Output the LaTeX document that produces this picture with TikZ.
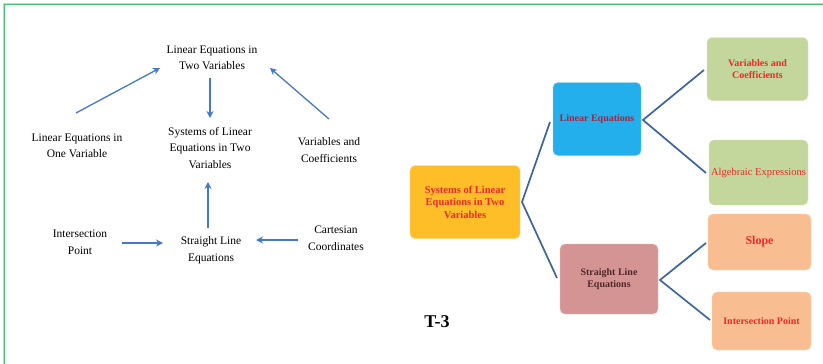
\documentclass[tikz,border=0pt]{standalone}
\usepackage{fontspec}
\setmainfont{Liberation Serif}
\usetikzlibrary{arrows.meta}
\definecolor{frameg}{RGB}{70,195,115}
\definecolor{arrowb}{RGB}{70,120,200}
\definecolor{linkb}{RGB}{60,100,160}
\definecolor{ybox}{RGB}{253,190,40}
\definecolor{bbox}{RGB}{35,175,235}
\definecolor{pbox}{RGB}{213,148,148}
\definecolor{gbox}{RGB}{195,214,155}
\definecolor{obox}{RGB}{248,190,145}
\definecolor{redtxt}{RGB}{240,40,40}
\definecolor{maroon}{RGB}{160,40,70}
\definecolor{darktxt}{RGB}{80,40,40}
\tikzset{
  lbl/.style={align=center,font=\fontsize{11.5}{16.5}\selectfont,inner sep=1pt},
  arr/.style={draw=arrowb,line width=1.3pt,-{Stealth[length=7pt,width=7pt]}},
  boxn/.style={rounded corners=5pt,align=center,inner sep=2pt,font=\fontsize{10}{11.5}\selectfont\bfseries},
  link/.style={draw=linkb,line width=1.7pt},
}
\begin{document}
\begin{tikzpicture}[x=1pt,y=-1pt]
\useasboundingbox (0,0) rectangle (823,364);
\fill[white] (0,0) rectangle (823,364);
% frame
\draw[frameg!45,line width=2.2pt] (4,364) -- (4,4) -- (823,4);
\draw[frameg,line width=0.9pt] (4,364) -- (4,4) -- (823,4);
% left diagram
\node[lbl] (l2) at (212,58) {Linear Equations in\\Two Variables};
\node[lbl] (sys) at (210,148) {Systems of Linear\\Equations in Two\\Variables};
\node[lbl] (l1) at (77,146) {Linear Equations in\\One Variable};
\node[lbl] (vc) at (329,150) {Variables and\\Coefficients};
\node[lbl] (ip) at (80,242) {Intersection\\Point};
\node[lbl] (sl) at (211,250) {Straight Line\\Equations};
\node[lbl] (cc) at (336,238) {Cartesian\\Coordinates};
\coordinate (a1s) at (76,113); \coordinate (a1e) at (160,68);
\coordinate (a2s) at (210,78); \coordinate (a2e) at (210,118);
\coordinate (a3s) at (329,119); \coordinate (a3e) at (270,68);
\coordinate (a4s) at (208,228); \coordinate (a4e) at (208,182);
\coordinate (a5s) at (122,243); \coordinate (a5e) at (163,243);
\coordinate (a6s) at (298,240); \coordinate (a6e) at (256,240);
\draw[arr] (a1s) -- (a1e);
\draw[arr] (a2s) -- (a2e);
\draw[arr] (a3s) -- (a3e);
\draw[arr] (a4s) -- (a4e);
\draw[arr] (a5s) -- (a5e);
\draw[arr] (a6s) -- (a6e);
% right diagram
\node[boxn,fill=ybox,draw=ybox!60,minimum width=110pt,minimum height=73pt,text=redtxt,font=\fontsize{10.5}{12.5}\selectfont\bfseries] (ys) at (465,202) {Systems of Linear\\Equations in Two\\Variables};
\node[boxn,fill=bbox,draw=bbox!60,minimum width=88pt,minimum height=73pt,text=maroon] (le) at (597,119) {Linear Equations};
\node[boxn,fill=pbox,draw=pbox!60,minimum width=98pt,minimum height=70pt,text=darktxt] (se) at (609,279) {Straight Line\\Equations};
\node[boxn,fill=gbox,draw=gbox!60,minimum width=101pt,minimum height=63pt,text=redtxt] (vb) at (757.5,69) {Variables and\\Coefficients};
\node[boxn,fill=gbox,draw=gbox!60,minimum width=99pt,minimum height=65pt,text=redtxt,font=\fontsize{10.5}{12}\selectfont,inner sep=0pt] (ae) at (758.5,172.5) {Algebraic Expressions};
\node[boxn,fill=obox,draw=obox!60,minimum width=103pt,minimum height=56pt,text=redtxt,font=\fontsize{12}{13}\selectfont\bfseries] (sp) at (759.5,242) {Slope};
\node[boxn,fill=obox,draw=obox!60,minimum width=99pt,minimum height=58pt,text=redtxt] (ipt) at (761.5,321) {Intersection Point};
\coordinate (j1) at (522,202);
\coordinate (j2) at (643,120);
\coordinate (j3) at (660,280);
\coordinate (e1) at (550,122);
\coordinate (e2) at (557,278);
\coordinate (e3) at (704,70);
\coordinate (e4) at (706,173);
\coordinate (e5) at (706,243);
\coordinate (e6) at (710,320);
\draw[link] (e1) -- (j1) -- (e2);
\draw[link] (e3) -- (j2) -- (e4);
\draw[link] (e5) -- (j3) -- (e6);
\node[font=\fontsize{18}{20}\selectfont\bfseries] (t3) at (437,322) {T-3};
\end{tikzpicture}
\end{document}
